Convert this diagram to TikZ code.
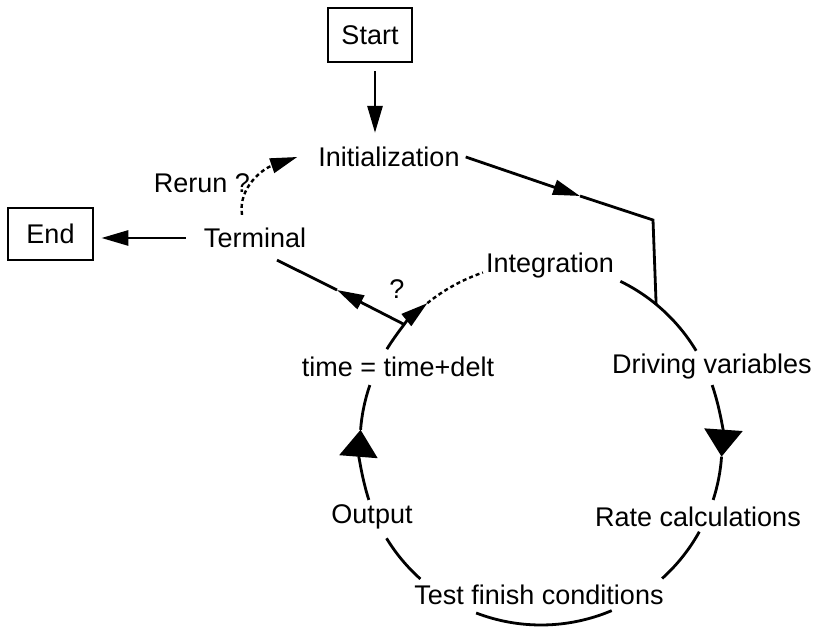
\documentclass[tikz,border=0pt]{standalone}
\usepackage{fontspec}
\setmainfont{Liberation Sans}
\usetikzlibrary{arrows.meta}

\begin{document}
\begin{tikzpicture}[x=1pt,y=1pt,
    lbl/.style={font=\fontsize{27}{32}\selectfont, inner sep=2pt},
    box/.style={lbl, draw, line width=2.8pt, minimum height=52pt},
    flow/.style={line width=2.8pt},
    dots/.style={line width=2.4pt, dash pattern=on 4pt off 3pt},
    tip/.style={-{Triangle[length=27pt,width=15pt]}},
    bigtip/.style={-{Triangle[length=27pt,width=38pt]}}]
  \useasboundingbox (0,0) rectangle (816,628);
  \coordinate (C) at (541,184);
  \node[box, minimum width=84pt, minimum height=54pt] (start) at (370,593) {Start};
  \node[box, minimum width=85pt] (end) at (50.5,394) {End};
  \node[lbl] (init) at (389,471) {Initialization};
  \node[lbl] (rerun) at (202,445) {Rerun ?};
  \node[lbl] (term) at (255,390) {Terminal};
  \node[lbl] (integ) at (550,362) {Integration};
  \node[lbl] (drive) at (712,261) {Driving variables};
  \node[lbl] (rate) at (698,111) {Rate calculations};
  \node[lbl] (test) at (539,33) {Test finish conditions};
  \node[lbl] (output) at (372,111) {Output};
  \node[lbl] (tupd) at (398,261) {time = time+delt};
  \node[lbl] (ask) at (397,339) {?};
  \coordinate (J) at ([shift={(138.8:181)}]C);
  \coordinate (drvin) at ([shift={(50.5:181)}]C);
  \coordinate (bend) at (653,408);
  \coordinate (m1) at (580,432);
  \coordinate (m2) at (337,338);

  \draw[flow,tip] ([xshift=5pt,yshift=-8pt]start.south) -- ([xshift=-14pt,yshift=12pt]init.north);
  \draw[flow,tip] ([xshift=4pt]init.east) -- (m1);
  \draw[flow] (m1) -- (bend) -- (drvin);
  \draw[flow,tip,shorten >=7pt] ([xshift=-16pt]term.west) -- (term.west -| end.east);
  \draw[flow,tip] (J) -- (m2);
  \draw[flow] (m2) -- ([xshift=22pt,yshift=-10pt]term.south);
  \draw[dots,tip] ([xshift=-13pt,yshift=11pt]term.north) .. controls +(-4,27) and +(-35,-12) .. ([xshift=-19pt]init.west);

  \draw[flow] (C) ++(64:181) arc[start angle=64, end angle=31, radius=181];
  \draw[flow,bigtip] (C) ++(19:181) arc[start angle=19, end angle=-4, radius=181];
  \draw[flow] (C) ++(-4:181) arc[start angle=-4, end angle=-18, radius=181];
  \draw[flow] (C) ++(-29:181) arc[start angle=-29, end angle=-48, radius=181];
  \draw[flow] (C) ++(-67:181) arc[start angle=-67, end angle=-111, radius=181];
  \draw[flow] (C) ++(228.2:181) arc[start angle=228.2, end angle=211.4, radius=181];
  \draw[flow,bigtip] (C) ++(198:181) arc[start angle=198, end angle=175.5, radius=181];
  \draw[flow] (C) ++(175.5:181) arc[start angle=175.5, end angle=161, radius=181];
  \draw[flow,tip] (C) ++(148.4:181) arc[start angle=148.4, end angle=128.9, radius=181];
  \draw[dots] (C) ++(128.9:181) arc[start angle=128.9, end angle=108.7, radius=181];
\end{tikzpicture}
\end{document}
